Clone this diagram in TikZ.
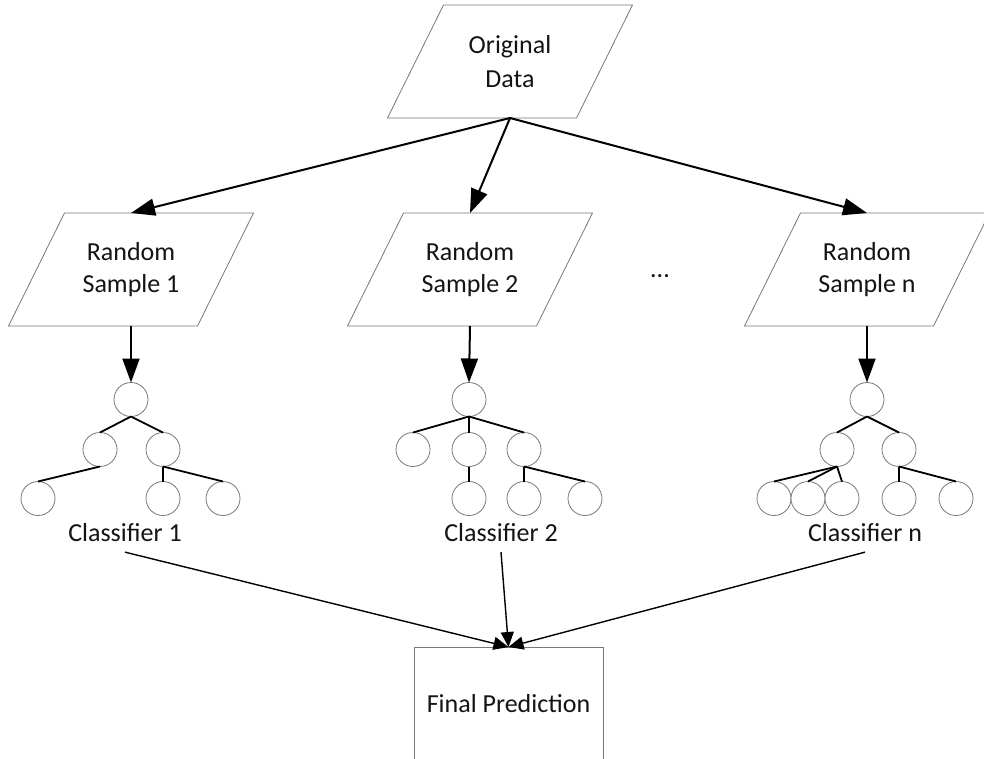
\documentclass[tikz,border=0pt]{standalone}
\usepackage{fontspec}
\setmainfont{Carlito}
\usetikzlibrary{arrows.meta}
\definecolor{borderc}{RGB}{120,120,120}
\newcommand{\paradraw}[2]{\draw[shapeline] ([xshift=#2]#1.north west) -- ([xshift=#2]#1.north east) -- ([xshift=-#2]#1.south east) -- ([xshift=-#2]#1.south west) -- cycle;}
\begin{document}
\begin{tikzpicture}[x=1pt,y=-1pt,
  txt/.style={font=\fontsize{26}{32}\selectfont, align=center, inner sep=0pt, outer sep=0pt, text=black!92},
  parabox/.style={txt, minimum width=189pt, minimum height=113pt},
  shapeline/.style={draw=borderc, line width=0.8pt},
  circ/.style={circle, draw=borderc, line width=0.8pt, fill=white, minimum size=34pt, inner sep=0pt, outer sep=0pt},
  bigarrow/.style={line width=2pt, -{Triangle[length=24pt,width=17pt]}},
  smallarrow/.style={line width=1.4pt, -{Triangle[length=15pt,width=13pt]}},
  edge/.style={line width=1.8pt}]
\useasboundingbox (0,0) rectangle (984,758);
\clip (0,0) rectangle (984,758);
\fill[white] (0,0) rectangle (984,758);

% parallelogram nodes
\node[parabox] (o) at (510,61.5) {Original\\[2pt]Data};
\paradraw{o}{28pt}
\node[parabox] (s1) at (131,269.5) {Random\\Sample 1};
\paradraw{s1}{28pt}
\node[parabox] (s2) at (470,269.5) {Random\\Sample 2};
\paradraw{s2}{28pt}
\node[parabox] (sn) at (867,269.5) {Random\\Sample n};
\paradraw{sn}{28pt}
\node[txt] (dots) at (660,276) {...};

% top arrows
\draw[bigarrow] (o.south) -- (s1.north);
\draw[bigarrow] (o.south) -- (s2.north);
\draw[bigarrow] (o.south) -- (sn.north);

% tree 1
\node[circ] (r1) at (131,399.5) {};
\node[circ] (a1) at (100,449.5) {};
\node[circ] (b1) at (163,449.5) {};
\node[circ] (a1l) at (38,498.5) {};
\node[circ] (b1l) at (163,498.5) {};
\node[circ] (b1r) at (223,498.5) {};
\draw[edge] (r1.south) -- (a1.north);
\draw[edge] (r1.south) -- (b1.north);
\draw[edge] (a1.south) -- (a1l.north);
\draw[edge] (b1.south) -- (b1l.north);
\draw[edge] (b1.south) -- (b1r.north);
\draw[bigarrow] (s1.south) -- (r1.north);

% tree 2
\node[circ] (r2) at (469,399.5) {};
\node[circ] (a2) at (413,449.5) {};
\node[circ] (b2) at (469,449.5) {};
\node[circ] (c2) at (524,449.5) {};
\node[circ] (b2l) at (469,498.5) {};
\node[circ] (c2l) at (524,498.5) {};
\node[circ] (c2r) at (585,498.5) {};
\draw[edge] (r2.south) -- (a2.north);
\draw[edge] (r2.south) -- (b2.north);
\draw[edge] (r2.south) -- (c2.north);
\draw[edge] (b2.south) -- (b2l.north);
\draw[edge] (c2.south) -- (c2l.north);
\draw[edge] (c2.south) -- (c2r.north);
\draw[bigarrow] (s2.south) -- (r2.north);

% tree n
\node[circ] (rn) at (867,399.5) {};
\node[circ] (an) at (837,449.5) {};
\node[circ] (bn) at (899,449.5) {};
\node[circ] (an1) at (774,498.5) {};
\node[circ] (an2) at (808,498.5) {};
\node[circ] (an3) at (842,498.5) {};
\node[circ] (bnl) at (899,498.5) {};
\node[circ] (bnr) at (956,498.5) {};
\draw[edge] (rn.south) -- (an.north);
\draw[edge] (rn.south) -- (bn.north);
\draw[edge] (an.south) -- (an1.north);
\draw[edge] (an.south) -- (an2.north);
\draw[edge] (an.south) -- (an3.north);
\draw[edge] (bn.south) -- (bnl.north);
\draw[edge] (bn.south) -- (bnr.north);
\draw[bigarrow] (sn.south) -- (rn.north);

% labels
\node[txt] (c1) at (125,533) {Classifier 1};
\node[txt] (c2lab) at (501,533) {Classifier 2};
\node[txt] (cn) at (865,533) {Classifier n};

% final
\node[txt, draw=borderc, line width=0.8pt, minimum width=189pt, minimum height=113pt] (f) at (508.5,703.5) {Final Prediction};

\draw[smallarrow] ([yshift=-10pt]c1.south) -- (f.north);
\draw[smallarrow] ([yshift=-10pt]c2lab.south) -- (f.north);
\draw[smallarrow] ([yshift=-10pt]cn.south) -- (f.north);
\end{tikzpicture}
\end{document}
